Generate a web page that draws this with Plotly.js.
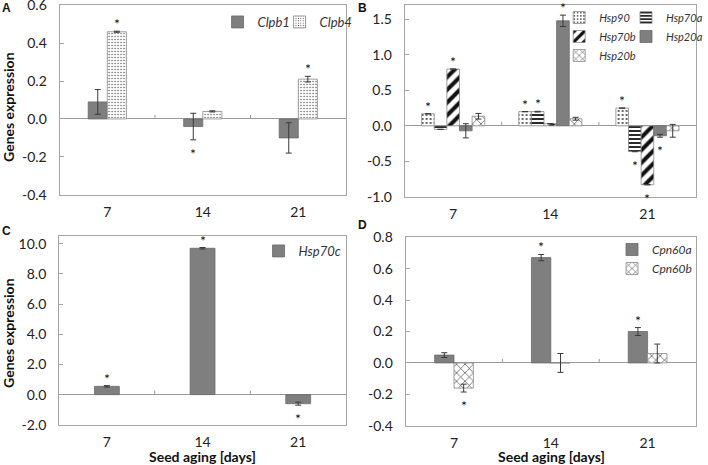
<!DOCTYPE html>
<html><head><meta charset="utf-8">
<script src="https://cdn.plot.ly/plotly-3.0.1.min.js"></script>
<style>html,body{margin:0;padding:0;background:#fff}#chart{width:708px;height:465px}</style>
</head><body><div id="chart"></div>
<script>
// ---------- data ----------
const days = ['7', '14', '21'];

// Panel A
const clpb1 = [0.09, -0.04, -0.10];
const clpb1Err = [0.065, 0.07, 0.08];
const clpb1Sig = [0, -1, 0];
const clpb4 = [0.46, 0.04, 0.21];
const clpb4Err = [0.003, 0.003, 0.015];
const clpb4Sig = [1, 0, 1];
const ticksA = [-0.4, -0.2, 0.0, 0.2, 0.4, 0.6];

// Panel B
const hsp90 = [0.17, 0.20, 0.25];
const hsp90Err = [0, 0, 0];
const hsp90Sig = [1, 1, 1];
const hsp70a = [-0.05, 0.20, -0.36];
const hsp70aErr = [0, 0.005, 0.005];
const hsp70aSig = [0, 1, -1];
const hsp70b = [0.80, 0.03, -0.83];
const hsp70bErr = [0, 0, 0];
const hsp70bSig = [1, 0, -1];
const hsp20a = [-0.07, 1.48, -0.14];
const hsp20aErr = [0.10, 0.08, 0.02];
const hsp20aSig = [0, 1, -1];
const hsp20b = [0.135, 0.10, -0.07];
const hsp20bErr = [0.04, 0.02, 0.09];
const hsp20bSig = [0, 0, 0];
const ticksB = [-1.0, -0.5, 0.0, 0.5, 1.0, 1.5];

// Panel C
const hsp70c = [0.55, 9.70, -0.60];
const hsp70cErr = [0.05, 0.05, 0.10];
const hsp70cSig = [1, 1, -1];
const ticksC = [-2.0, 0.0, 2.0, 4.0, 6.0, 8.0, 10.0];

// Panel D
const cpn60a = [0.05, 0.67, 0.20];
const cpn60aErr = [0.015, 0.02, 0.025];
const cpn60aSig = [0, 1, 1];
const cpn60b = [-0.16, 0.0, 0.06];
const cpn60bErr = [0.025, 0.06, 0.06];
const cpn60bSig = [-1, 0, 0];
const ticksD = [-0.4, -0.2, 0.0, 0.2, 0.4, 0.6, 0.8];

// ---------- helpers ----------
const W = 708, H = 465;
const FONT = 'Lato, "Open Sans", sans-serif';
const xs = days.map((d, i) => i);
const dx = (a, b) => [a / W, b / W];
const dy = (t, b) => [1 - b / H, 1 - t / H];

const SOLID = {kind: 'solid'};
const DOTS_FINE = {shape: '.', size: 3, solidity: 0.14, fg: '#444'};
const DOTS = {shape: '.', size: 4, solidity: 0.16, fg: '#222'};
const HLINES = {shape: '-', size: 4, solidity: 0.45, fg: '#111'};
const DIAG = {shape: '/', size: 9, solidity: 0.45, fg: '#111'};
const WAVE = {shape: 'x', size: 6, solidity: 0.18, fg: '#222'};

const traces = [];
const annotations = [];

function addBar(name, y, err, sig, axis, width, offset, fill, legend) {
  const t = {
    type: 'bar', name: name, x: xs, y: y,
    xaxis: 'x' + axis, yaxis: 'y' + axis,
    width: width, offset: offset,
    legend: legend, showlegend: true,
    error_y: {type: 'data', array: err, visible: true, color: '#3a3a3a', thickness: 1, width: 3},
    hoverinfo: 'skip'
  };
  if (fill.kind === 'solid') {
    t.marker = {color: '#7f7f7f', line: {color: '#6a6a6a', width: 0.8}};
  } else {
    t.marker = {color: 'white', line: {color: '#8a8a8a', width: 0.8},
      pattern: {shape: fill.shape, size: fill.size, solidity: fill.solidity,
                fgcolor: fill.fg, bgcolor: 'white', fillmode: 'replace'}};
  }
  traces.push(t);
  sig.forEach((s, i) => {
    if (!s) return;
    const xc = xs[i] + offset + width / 2;
    const yv = s > 0 ? y[i] + err[i] : y[i] - err[i];
    annotations.push({
      xref: 'x' + axis, yref: 'y' + axis, x: xc, y: yv, text: '*',
      showarrow: false, xanchor: 'center', yanchor: s > 0 ? 'bottom' : 'top', yshift: -3,
      font: {family: FONT, size: 14, color: '#111'}
    });
  });
}

// Panel A (axis 1)
addBar('Clpb1', clpb1, clpb1Err, clpb1Sig, '', 0.2, -0.2, SOLID, 'legend');
addBar('Clpb4', clpb4, clpb4Err, clpb4Sig, '', 0.2, 0.0, DOTS_FINE, 'legend6');
// Panel B (axis 2)
const wB = 0.13;
addBar('Hsp90', hsp90, hsp90Err, hsp90Sig, '2', wB, -2.5 * wB, DOTS, 'legend2');
addBar('Hsp70a', hsp70a, hsp70aErr, hsp70aSig, '2', wB, -1.5 * wB, HLINES, 'legend3');
addBar('Hsp70b', hsp70b, hsp70bErr, hsp70bSig, '2', wB, -0.5 * wB, DIAG, 'legend2');
addBar('Hsp20a', hsp20a, hsp20aErr, hsp20aSig, '2', wB, 0.5 * wB, SOLID, 'legend3');
addBar('Hsp20b', hsp20b, hsp20bErr, hsp20bSig, '2', wB, 1.5 * wB, WAVE, 'legend2');
// Panel C (axis 3)
addBar('Hsp70c', hsp70c, hsp70cErr, hsp70cSig, '3', 0.26, -0.13, SOLID, 'legend4');
// Panel D (axis 4)
addBar('Cpn60a', cpn60a, cpn60aErr, cpn60aSig, '4', 0.2, -0.2, SOLID, 'legend5');
addBar('Cpn60b', cpn60b, cpn60bErr, cpn60bSig, '4', 0.2, 0.0, WAVE, 'legend5');

// axes
const LINE = '#a6a6a6';
function xAxis(dom, yname) {
  return {domain: dom, anchor: yname, range: [-0.5, 2.5], tickvals: xs, ticktext: days,
    showline: true, mirror: true, linecolor: LINE, linewidth: 1, ticks: '', showgrid: false,
    zeroline: false, ticklabelstandoff: 4, tickfont: {family: FONT, size: 14, color: '#222'},
    fixedrange: true};
}
function yAxis(dom, xname, range, ticks) {
  const pad = (range[1] - range[0]) * 0.001;
  return {domain: dom, anchor: xname, range: [range[0] - pad, range[1] + pad], tickvals: ticks,
    ticktext: ticks.map(v => v.toFixed(1)), ticklabeloverflow: 'allow',
    showline: true, mirror: true, linecolor: LINE, linewidth: 1,
    ticks: 'inside', ticklen: 4, tickcolor: LINE, showgrid: false,
    zeroline: true, zerolinecolor: '#9a9a9a', zerolinewidth: 1,
    ticklabelstandoff: 9, tickfont: {family: FONT, size: 14, color: '#222'}, fixedrange: true};
}

// boundary ticks on zero line (Excel-style)
const shapes = [];
['', '2', '3', '4'].forEach(a => {
  for (let i = 0; i < days.length - 1; i++) {
    shapes.push({type: 'line', xref: 'x' + a, yref: 'y' + a, x0: xs[i] + 0.5, x1: xs[i] + 0.5,
      ysizemode: 'pixel', yanchor: 0, y0: 0, y1: 4, line: {color: '#9a9a9a', width: 1}});
  }
});

// titles and panel letters
const titleFont = {family: FONT, size: 14, color: '#111', weight: 'bold'};
const mid = {showarrow: false, xanchor: 'center', yanchor: 'middle', xref: 'paper', yref: 'paper'};
annotations.push(
  Object.assign({}, mid, {x: 8 / W, y: 1 - 107 / H, text: 'Genes expression', textangle: -90, font: titleFont}),
  Object.assign({}, mid, {x: 8 / W, y: 1 - 333 / H, text: 'Genes expression', textangle: -90, font: titleFont}),
  Object.assign({}, mid, {x: 206 / W, y: 1 - 456.5 / H, text: 'Seed aging [days]', font: titleFont}),
  Object.assign({}, mid, {x: 560 / W, y: 1 - 456.5 / H, text: 'Seed aging [days]', font: titleFont})
);
const letterFont = {family: 'Liberation Sans, Arial, sans-serif', size: 12, color: '#111', weight: 'bold'};
[['A', 7, 8], ['B', 368, 8], ['C', 7, 231], ['D', 368, 225]].forEach(([t, x, y]) => {
  annotations.push(Object.assign({}, mid, {x: x / W, y: 1 - y / H, text: t, font: letterFont}));
});

const legFont = {family: FONT, size: 13, color: '#333', style: 'italic'};
const legFont11 = Object.assign({}, legFont, {size: 11});
const legFont12 = Object.assign({}, legFont, {size: 12});
const legBase = {bgcolor: 'rgba(0,0,0,0)', borderwidth: 0, font: legFont, yanchor: 'top'};

const layout = {
  width: W, height: H, margin: {l: 0, r: 0, t: 0, b: 0},
  paper_bgcolor: 'white', plot_bgcolor: 'white',
  font: {family: FONT, color: '#222'},
  barmode: 'group',
  showlegend: true,
  xaxis: xAxis(dx(60.5, 351.5), 'y'),
  yaxis: yAxis(dy(5, 195), 'x', [-0.4, 0.6], ticksA),
  xaxis2: xAxis(dx(411, 707), 'y2'),
  yaxis2: yAxis(dy(5, 197), 'x2', [-1.0, 1.7], ticksB),
  xaxis3: xAxis(dx(60, 351.5), 'y3'),
  yaxis3: yAxis(dy(236, 425), 'x3', [-2.0, 10.5], ticksC),
  xaxis4: xAxis(dx(412, 707), 'y4'),
  yaxis4: yAxis(dy(237, 426), 'x4', [-0.4, 0.8], ticksD),
  legend: Object.assign({}, legBase, {x: 221 / W, xanchor: 'left', y: 1 - 7 / H}),
  legend6: Object.assign({}, legBase, {x: 284 / W, xanchor: 'left', y: 1 - 7 / H}),
  legend2: Object.assign({}, legBase, {x: 568 / W, xanchor: 'left', y: 1 - 3 / H, font: legFont11}),
  legend3: Object.assign({}, legBase, {x: 636 / W, xanchor: 'left', y: 1 - 3 / H, font: legFont11}),
  legend4: Object.assign({}, legBase, {x: 352 / W, xanchor: 'right', y: 1 - 236 / H}),
  legend5: Object.assign({}, legBase, {x: 1, xanchor: 'right', y: 1 - 235 / H, font: legFont12}),
  shapes: shapes,
  annotations: annotations
};

Plotly.newPlot('chart', traces, layout, {staticPlot: true, displayModeBar: false});
</script>
</body></html>
